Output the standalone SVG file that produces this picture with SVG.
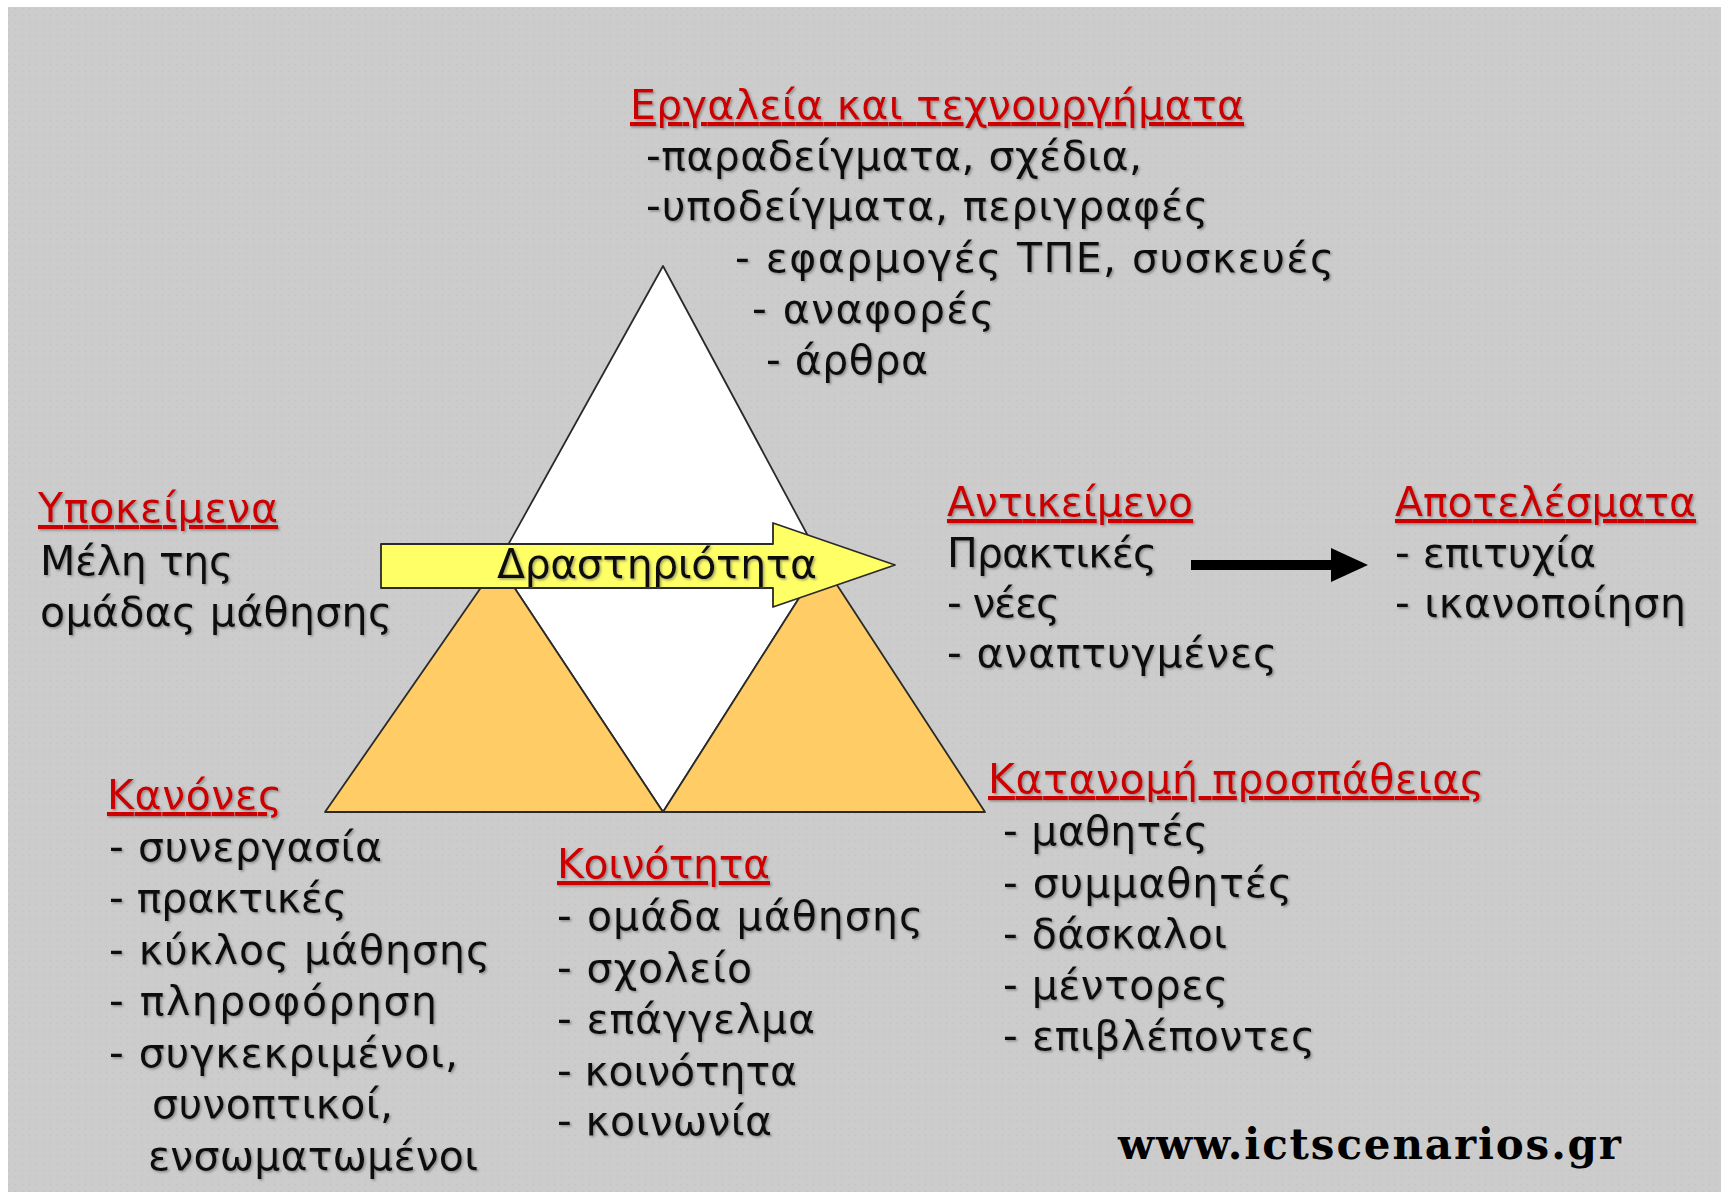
<svg xmlns="http://www.w3.org/2000/svg" width="1721" height="1192" viewBox="0 0 1721 1192">
<style>
.t{font-family:"DejaVu Sans","Noto Sans",sans-serif;font-size:41px;fill:#111;}
.h{fill:#cc0000;text-decoration:underline;}
.url{font-family:"DejaVu Serif","Liberation Serif",serif;font-size:42px;font-weight:bold;fill:#000;}
.edge{stroke:#2a2a2a;stroke-width:1.8;stroke-linejoin:round;}
</style>
<defs>
<filter id="sh" x="-5%" y="-20%" width="110%" height="140%">
<feDropShadow dx="1.5" dy="1.5" stdDeviation="0.8" flood-color="#555" flood-opacity="0.55"/>
</filter>
<pattern id="dots" width="7" height="7" patternUnits="userSpaceOnUse">
<rect width="7" height="7" fill="#cccccc"/>
<circle cx="1.5" cy="1.5" r="0.8" fill="#c2c2c2"/>
<circle cx="5" cy="4.5" r="0.8" fill="#d4cbcb"/>
</pattern>
</defs>

<rect x="0" y="0" width="1721" height="1192" fill="#ffffff"/>
<rect x="8" y="7" width="1713" height="1185" fill="url(#dots)"/>

<g id="triangle">
<polygon class="edge" points="663,266 822,562 663,812 498,563" fill="#ffffff"/>
<polygon class="edge" points="325,812 663,812 498,563" fill="#ffcc66"/>
<polygon class="edge" points="663,812 985,812 822,562" fill="#ffcc66"/>
</g>

<g id="activity">
<polygon class="edge" points="381,544 773,544 773,523 895,565 773,607 773,588 381,588" fill="#ffff66"/>
<text class="t" x="497" y="578" textLength="320" filter="url(#sh)">Δραστηριότητα</text>
</g>

<g id="connectors">
<line x1="1191" y1="565" x2="1332" y2="565" stroke="#000" stroke-width="10"/>
<polygon points="1331,548 1368,565 1331,582" fill="#000"/>
</g>

<g id="tools" filter="url(#sh)">
<text class="t h" x="630" y="119" textLength="614">Εργαλεία και τεχνουργήματα</text>
<text class="t" x="646" y="170" textLength="496">-παραδείγματα, σχέδια,</text>
<text class="t" x="646" y="220" textLength="562">-υποδείγματα, περιγραφές</text>
<text class="t" x="735" y="272" textLength="599">- εφαρμογές ΤΠΕ, συσκευές</text>
<text class="t" x="752" y="323" textLength="242">- αναφορές</text>
<text class="t" x="766" y="374" textLength="162">- άρθρα</text>
</g>

<g id="subjects" filter="url(#sh)">
<text class="t h" x="38" y="522" textLength="240">Υποκείμενα</text>
<text class="t" x="40" y="575" textLength="193">Μέλη της</text>
<text class="t" x="40" y="626" textLength="352">ομάδας μάθησης</text>
</g>

<g id="object" filter="url(#sh)">
<text class="t h" x="947" y="516" textLength="246">Αντικείμενο</text>
<text class="t" x="947" y="567" textLength="210">Πρακτικές</text>
<text class="t" x="947" y="617" textLength="113">- νέες</text>
<text class="t" x="947" y="667" textLength="330">- αναπτυγμένες</text>
</g>

<g id="outcomes" filter="url(#sh)">
<text class="t h" x="1395" y="516" textLength="301">Αποτελέσματα</text>
<text class="t" x="1395" y="567" textLength="201">- επιτυχία</text>
<text class="t" x="1395" y="617" textLength="291">- ικανοποίηση</text>
</g>

<g id="rules" filter="url(#sh)">
<text class="t h" x="107" y="809" textLength="175">Κανόνες</text>
<text class="t" x="109" y="861" textLength="273">- συνεργασία</text>
<text class="t" x="109" y="912" textLength="238">- πρακτικές</text>
<text class="t" x="109" y="964" textLength="381">- κύκλος μάθησης</text>
<text class="t" x="109" y="1015" textLength="328">- πληροφόρηση</text>
<text class="t" x="109" y="1067" textLength="349">- συγκεκριμένοι,</text>
<text class="t" x="152" y="1118" textLength="241">συνοπτικοί,</text>
<text class="t" x="148" y="1170" textLength="330">ενσωματωμένοι</text>
</g>

<g id="community" filter="url(#sh)">
<text class="t h" x="557" y="878" textLength="213">Κοινότητα</text>
<text class="t" x="557" y="930" textLength="366">- ομάδα μάθησης</text>
<text class="t" x="557" y="982" textLength="195">- σχολείο</text>
<text class="t" x="557" y="1033" textLength="258">- επάγγελμα</text>
<text class="t" x="557" y="1085" textLength="240">- κοινότητα</text>
<text class="t" x="557" y="1135" textLength="215">- κοινωνία</text>
</g>

<g id="division" filter="url(#sh)">
<text class="t h" x="988" y="793" textLength="496">Κατανομή προσπάθειας</text>
<text class="t" x="1003" y="845" textLength="205">- μαθητές</text>
<text class="t" x="1003" y="897" textLength="289">- συμμαθητές</text>
<text class="t" x="1003" y="948" textLength="224">- δάσκαλοι</text>
<text class="t" x="1003" y="999" textLength="225">- μέντορες</text>
<text class="t" x="1003" y="1050" textLength="312">- επιβλέποντες</text>
</g>

<text class="url" x="1118" y="1159" textLength="503">www.ictscenarios.gr</text>
</svg>
